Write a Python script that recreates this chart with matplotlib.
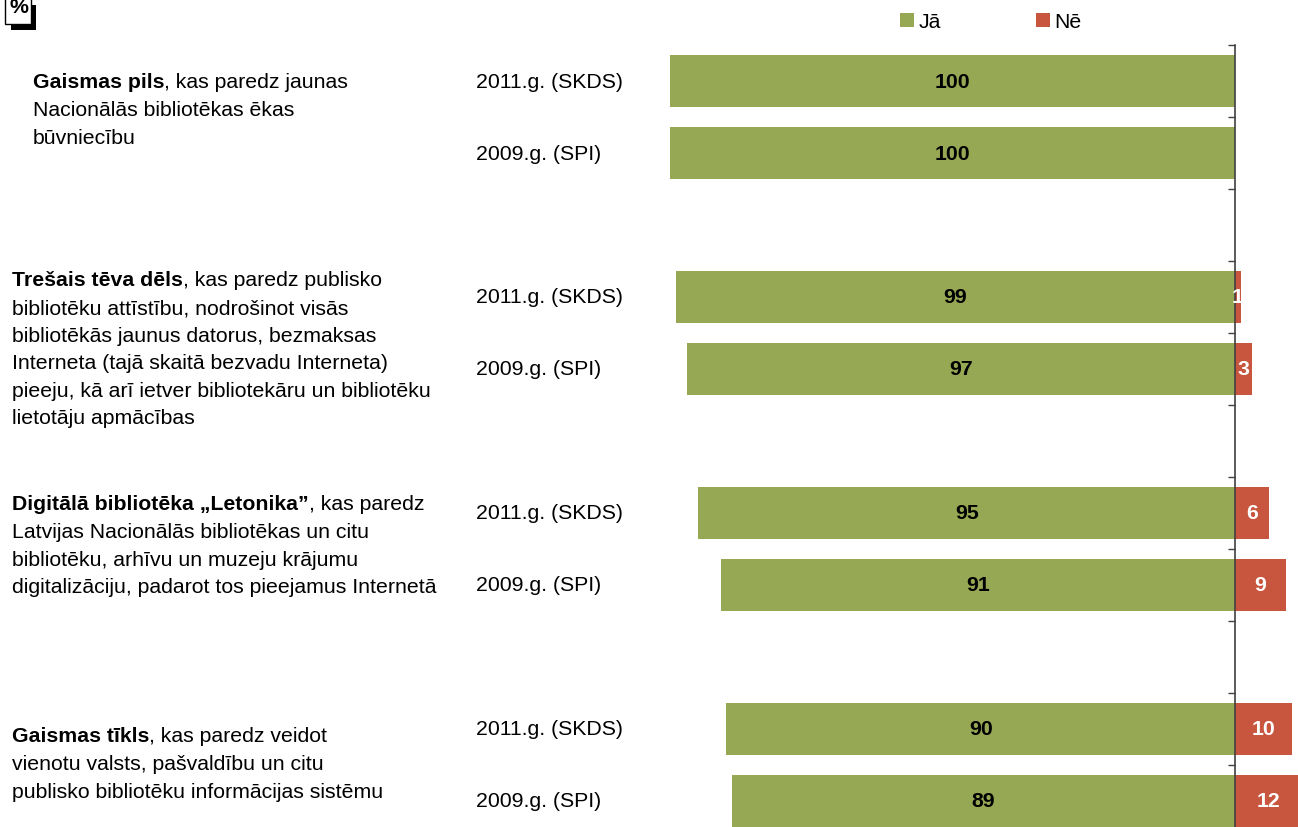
"""Diverging Jā / Nē bars for the four library projects (out.png)."""
import matplotlib
matplotlib.use("Agg")
import matplotlib.pyplot as plt
from matplotlib.patches import Rectangle
from matplotlib import transforms

plt.rcParams["font.family"] = ["Liberation Sans", "DejaVu Sans"]

W, H = 1298, 828
GREEN = "#96A853"
RED = "#C8553D"
FS = 15.3

# data
surveys = ["2011.g. (SKDS)", "2009.g. (SPI)"]
ja = [100, 100, 99, 97, 95, 91, 90, 89]
ne = [0, 0, 1, 3, 6, 9, 10, 12]
legend_labels = ["Jā", "Nē"]

titles_bold = ["Gaismas pils", "Trešais tēva dēls",
               "Digitālā bibliotēka „Letonika”", "Gaismas tīkls"]
titles_rest = [
    [", kas paredz jaunas", "Nacionālās bibliotēkas ēkas", "būvniecību"],
    [", kas paredz publisko", "bibliotēku attīstību, nodrošinot visās",
     "bibliotēkās jaunus datorus, bezmaksas",
     "Interneta (tajā skaitā bezvadu Interneta)",
     "pieeju, kā arī ietver bibliotekāru un bibliotēku",
     "lietotāju apmācības"],
    [", kas paredz", "Latvijas Nacionālās bibliotēkas un citu",
     "bibliotēku, arhīvu un muzeju krājumu",
     "digitalizāciju, padarot tos pieejamus Internetā"],
    [", kas paredz veidot", "vienotu valsts, pašvaldību un citu",
     "publisko bibliotēku informācijas sistēmu"],
]


def fx(x):
    return x / W


def fy(y):
    return 1 - y / H


fig = plt.figure(figsize=(W / 100, H / 100), dpi=100)
fig.patch.set_facecolor("white")

# axes: zero line at x=1235 px, 5.65 px per %, slots of 72 px starting at y=46
x_left, x_zero, x_right, scale, y_top = 660, 1235, W, 5.65, 46
ax = fig.add_axes([fx(x_left), 0, fx(x_right - x_left), (H - y_top) / H])
ax.set_xlim(-(x_zero - x_left) / scale, (x_right - x_zero) / scale)
ax.set_ylim(-0.5 + (H - y_top) / 72, -0.5)

slots = [3 * (i // 2) + i % 2 for i in range(len(ja))]
bh = 0.71
b1 = ax.barh(slots, [-v for v in ja], height=bh, color=GREEN, label=legend_labels[0])
b2 = ax.barh(slots, ne, height=bh, color=RED, label=legend_labels[1])

for s, v, n in zip(slots, ja, ne):
    ax.text(-v / 2, s, str(v), ha="center", va="center", fontsize=FS,
            fontweight="bold", color="black")
    if n:
        ax.text(n / 2, s, str(n), ha="center", va="center", fontsize=FS,
                fontweight="bold", color="white")

for sp in ["top", "right", "bottom"]:
    ax.spines[sp].set_visible(False)
ax.spines["left"].set_position(("data", 0))
ax.spines["left"].set_color("#404040")
ax.spines["left"].set_linewidth(1.2)
ax.set_xticks([])
ax.set_yticks([k - 0.5 for k in range(11)])
ax.set_yticklabels([])
ax.tick_params(axis="y", direction="out", length=5, width=1, color="#404040")
ax.set_facecolor("none")

# survey labels
bt = transforms.blended_transform_factory(fig.transFigure, ax.transData)
for i, s in enumerate(slots):
    ax.text(fx(476), s, surveys[i % 2], transform=bt, ha="left", va="center",
            fontsize=FS, clip_on=False)

# project descriptions
starts_x = [33, 12, 12, 12]
starts_y = [83, 281, 505, 737]
step = 27.6
for g in range(4):
    x0, y0 = starts_x[g], starts_y[g]
    tb = fig.text(fx(x0), fy(y0), titles_bold[g], ha="left", va="center",
                  fontsize=FS, fontweight="bold")
    ax.annotate(titles_rest[g][0], xy=(1, 0), xycoords=tb, ha="left", va="bottom",
                fontsize=FS, annotation_clip=False)
    for k, line in enumerate(titles_rest[g][1:], start=1):
        fig.text(fx(x0), fy(y0 + k * step), line, ha="left", va="center", fontsize=FS)

# legend
fig.legend(handles=[b1, b2], labels=legend_labels, loc="center left",
           bbox_to_anchor=(fx(900), fy(23)), ncol=2, frameon=False, fontsize=FS,
           handlelength=0.66, handleheight=0.66, handletextpad=0.2,
           columnspacing=4.5, borderpad=0, borderaxespad=0)

# "%" box with shadow
fig.add_artist(Rectangle((fx(11), fy(31)), fx(25), 25 / H, transform=fig.transFigure,
                         facecolor="black", edgecolor="none"))
fig.add_artist(Rectangle((fx(5), fy(25)), fx(26), 30 / H, transform=fig.transFigure,
                         facecolor="white", edgecolor="black", linewidth=1))
fig.text(fx(18.5), fy(12.8), "%", ha="center", va="baseline", fontsize=FS, fontweight="bold")

fig.savefig("out.png", dpi=100)
